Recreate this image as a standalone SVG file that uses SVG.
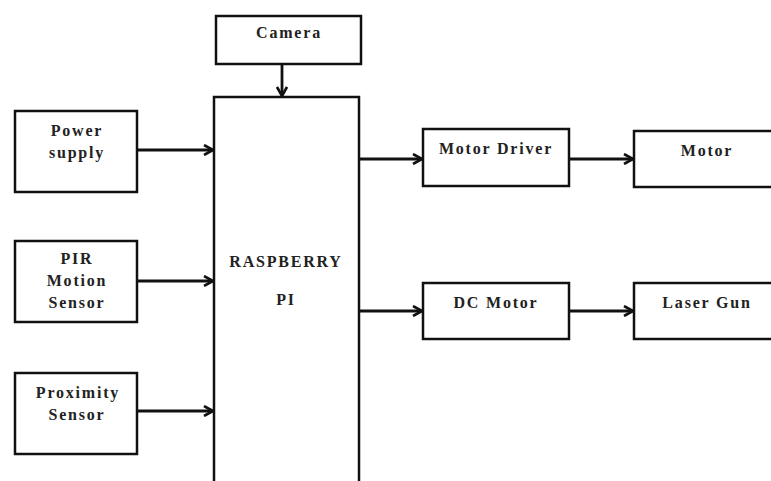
<svg xmlns="http://www.w3.org/2000/svg" width="771" height="481" viewBox="0 0 771 481">
<style>
.box{fill:#fff;stroke:#111;stroke-width:2.5}
.lbl{font-family:"Liberation Serif","Times New Roman",serif;font-weight:bold;font-size:16px;letter-spacing:1.8px;fill:#222;text-anchor:middle}
.con{stroke:#111;stroke-width:2.8;fill:none}
</style>
<defs>
<marker id="arr" viewBox="0 0 12 12" refX="11" refY="6" markerWidth="12" markerHeight="12" markerUnits="userSpaceOnUse" orient="auto">
<polyline points="2,1 11,6 2,11" fill="none" stroke="#111" stroke-width="2.6"/>
</marker>
</defs>
<rect width="771" height="481" fill="#fff"/>
<g id="camera"><rect class="box" x="216" y="16" width="145" height="48"/><text class="lbl" x="289" y="38">Camera</text></g>
<g id="raspberry"><rect class="box" x="214" y="97" width="145" height="400"/><text class="lbl" x="286" y="267">RASPBERRY</text><text class="lbl" x="286" y="305">PI</text></g>
<g id="power"><rect class="box" x="15" y="111" width="122" height="81"/><text class="lbl" x="77" y="136">Power</text><text class="lbl" x="77" y="158">supply</text></g>
<g id="pir"><rect class="box" x="15" y="241" width="122" height="81"/><text class="lbl" x="77" y="264">PIR</text><text class="lbl" x="77" y="286">Motion</text><text class="lbl" x="77" y="308">Sensor</text></g>
<g id="proximity"><rect class="box" x="15" y="373" width="122" height="81"/><text class="lbl" x="78" y="398">Proximity</text><text class="lbl" x="77" y="420">Sensor</text></g>
<g id="motordriver"><rect class="box" x="423" y="129" width="146" height="57"/><text class="lbl" x="496" y="154">Motor Driver</text></g>
<g id="motor"><rect class="box" x="634" y="131" width="150" height="56"/><text class="lbl" x="707" y="156">Motor</text></g>
<g id="dcmotor"><rect class="box" x="423" y="283" width="146" height="56"/><text class="lbl" x="496" y="308">DC Motor</text></g>
<g id="lasergun"><rect class="box" x="634" y="283" width="150" height="56"/><text class="lbl" x="707" y="308">Laser Gun</text></g>
<g id="connectors">
<line class="con" x1="282" y1="64" x2="282" y2="96" marker-end="url(#arr)"/>
<line class="con" x1="137" y1="150" x2="213" y2="150" marker-end="url(#arr)"/>
<line class="con" x1="137" y1="281" x2="213" y2="281" marker-end="url(#arr)"/>
<line class="con" x1="137" y1="411" x2="213" y2="411" marker-end="url(#arr)"/>
<line class="con" x1="359" y1="159" x2="422" y2="159" marker-end="url(#arr)"/>
<line class="con" x1="359" y1="311" x2="422" y2="311" marker-end="url(#arr)"/>
<line class="con" x1="569" y1="159" x2="633" y2="159" marker-end="url(#arr)"/>
<line class="con" x1="569" y1="311" x2="633" y2="311" marker-end="url(#arr)"/>
</g>
</svg>
